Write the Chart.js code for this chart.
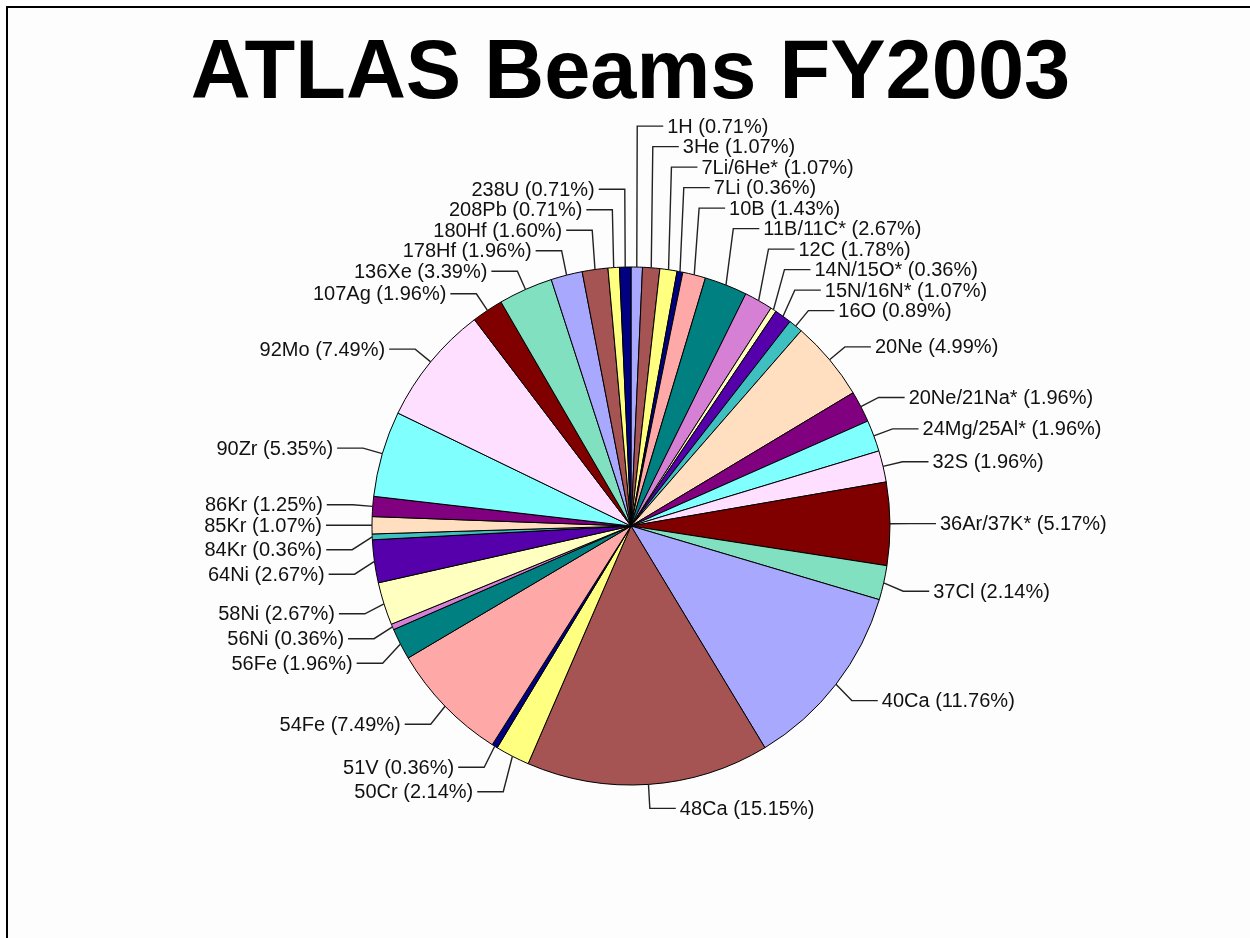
<!DOCTYPE html>
<html>
<head>
<meta charset="utf-8">
<title>ATLAS Beams FY2003</title>
<script src="https://cdn.jsdelivr.net/npm/chart.js"></script>
<style>
  html, body { margin: 0; padding: 0; background: #fff; }
  body { width: 1250px; height: 938px; overflow: hidden; position: relative; }
  #frame {
    position: absolute; left: 6px; top: 6px; width: 1300px; height: 1000px;
    border: 2px solid #000; background: #fdfdfd;
  }
  #title {
    position: absolute; left: 0; top: 28px; width: 1261px; margin: 0;
    text-align: center; font: bold 83px/83px "Liberation Sans", Arial, sans-serif; color: #000;
  }
  #beamChart { position: absolute; left: 0; top: 0; }
</style>
</head>
<body>
<div id="frame"></div>
<h1 id="title">ATLAS Beams FY2003</h1>
<canvas id="beamChart" width="1250" height="938"></canvas>
<script>
// Beam species, clockwise from 12 o'clock
const beams = [
  "1H", "3He", "7Li/6He*", "7Li", "10B", "11B/11C*", "12C", "14N/15O*", "15N/16N*", "16O",
  "20Ne", "20Ne/21Na*", "24Mg/25Al*", "32S", "36Ar/37K*", "37Cl", "40Ca", "48Ca", "50Cr", "51V",
  "54Fe", "56Fe", "56Ni", "58Ni", "64Ni", "84Kr", "85Kr", "86Kr", "90Zr", "92Mo",
  "107Ag", "136Xe", "178Hf", "180Hf", "208Pb", "238U"
];

// Share of beam time (%)
const shares = [
  0.71, 1.07, 1.07, 0.36, 1.43, 2.67, 1.78, 0.36, 1.07, 0.89,
  4.99, 1.96, 1.96, 1.96, 5.17, 2.14, 11.76, 15.15, 2.14, 0.36,
  7.49, 1.96, 0.36, 2.67, 2.67, 0.36, 1.07, 1.25, 5.35, 7.49,
  1.96, 3.39, 1.96, 1.60, 0.71, 0.71
];

// Fill colours repeat every 16 slices
const palette = [
  "#a8a8ff", "#a65353", "#ffff80", "#000080", "#ffa8a8", "#008080", "#d580d5", "#ffffc0",
  "#5500aa", "#3fc0c0", "#ffdfbf", "#800080", "#80ffff", "#ffdfff", "#800000", "#80e0c0"
];
const colors = beams.map((_, i) => palette[i % palette.length]);

const GAP_UP = 20.5;   // spacing when labels are pushed upwards
const GAP_DOWN = 24.5; // spacing when labels are pushed downwards

// Draw the callout labels with elbow leader lines
const calloutLabels = {
  id: "calloutLabels",
  afterDatasetsDraw(chart) {
    const ctx = chart.ctx;
    const meta = chart.getDatasetMeta(0);

    const items = meta.data.map((arc, i) => {
      const { x, y, startAngle, endAngle, outerRadius } =
        arc.getProps(["x", "y", "startAngle", "endAngle", "outerRadius"], true);
      const mid = (startAngle + endAngle) / 2;
      const cos = Math.cos(mid);
      const sin = Math.sin(mid);
      return {
        i,
        cy: y,
        ax: x + outerRadius * cos,
        ay: y + outerRadius * sin,
        ex: x + (outerRadius + 20) * cos,
        // lower labels hang a little below their point
        ny: y + (outerRadius + 20) * sin + (sin > 0 ? 4 : 0),
        right: cos >= 0,
      };
    });

    // keep the label nearest the middle, push the others up / down
    [true, false].forEach((side) => {
      const list = items.filter((it) => it.right === side).sort((a, b) => a.ny - b.ny);
      if (!list.length) return;
      let p = 0;
      list.forEach((it, k) => {
        if (Math.abs(it.ny - it.cy) < Math.abs(list[p].ny - list[p].cy)) p = k;
      });
      list[p].ly = list[p].ny;
      for (let k = p - 1; k >= 0; k--) list[k].ly = Math.min(list[k].ny, list[k + 1].ly - GAP_UP);
      for (let k = p + 1; k < list.length; k++) list[k].ly = Math.max(list[k].ny, list[k - 1].ly + GAP_DOWN);
    });

    ctx.save();
    ctx.strokeStyle = "#222";
    ctx.lineWidth = 1.4;
    ctx.fillStyle = "#111";
    ctx.font = '20px "Liberation Sans", Arial, sans-serif';
    ctx.textBaseline = "middle";
    items.forEach((it) => {
      const dir = it.right ? 1 : -1;
      ctx.beginPath();
      ctx.moveTo(it.ax, it.ay);
      ctx.lineTo(it.ex, it.ly);
      ctx.lineTo(it.ex + dir * 26, it.ly);
      ctx.stroke();
      ctx.textAlign = it.right ? "left" : "right";
      const text = `${beams[it.i]} (${shares[it.i].toFixed(2)}%)`;
      ctx.fillText(text, it.ex + dir * 30, it.ly + 1);
    });
    ctx.restore();
  },
};

new Chart(document.getElementById("beamChart"), {
  type: "pie",
  data: {
    labels: beams,
    datasets: [
      {
        data: shares,
        backgroundColor: colors,
        borderColor: "#000",
        borderWidth: 1,
      },
    ],
  },
  options: {
    responsive: false,
    animation: false,
    layout: { padding: { left: 371.5, right: 359.5, top: 266.5, bottom: 152.5 } },
    plugins: {
      legend: { display: false },
      tooltip: { enabled: false },
    },
  },
  plugins: [calloutLabels],
});
</script>
</body>
</html>
